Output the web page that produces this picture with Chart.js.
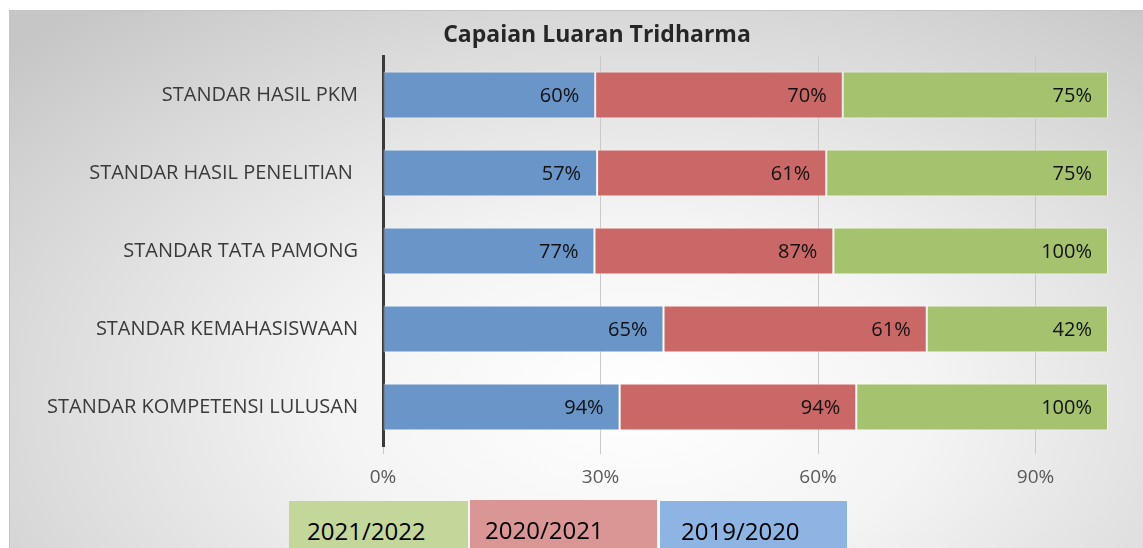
<!DOCTYPE html>
<html>
<head>
<meta charset="utf-8">
<script src="https://cdn.jsdelivr.net/npm/chart.js@4"></script>
<style>
  html, body { margin: 0; padding: 0; background: #fff; }
  body { width: 1143px; height: 548px; position: relative; overflow: hidden; font-family: "Open Sans", sans-serif; }
  #frame {
    position: absolute; left: 9px; top: 10px; width: 1134px; height: 538px;
    border-top: 1px solid #c4c4c4; border-left: 1px solid #c4c4c4;
    background: radial-gradient(ellipse 75% 95% at 55% 72%, #ffffff 0%, #f4f4f4 35%, #dcdcdc 70%, #c6c6c6 100%);
  }
  #wrap { position: absolute; left: 0; top: 0; width: 1134px; height: 538px; }
  #title { position: absolute; left: 0; width: 1194px; top: 17px; text-align: center; font-size: 23px; font-weight: bold; color: #262626; line-height: 32px; }
  .leg { position: absolute; height: 60px; font-size: 24px; color: #000; line-height: 60px; box-sizing: border-box; }
</style>
</head>
<body>
<div id="frame">
  <div id="wrap"><canvas id="tridharmaChart"></canvas></div>
</div>
<div id="title">Capaian Luaran Tridharma</div>
<div class="leg" style="left:289px; top:501px; width:179px; background:#c4d79b; padding-left:18px;">2021/2022</div>
<div class="leg" style="left:470px; top:500px; width:187px; background:#da9694; padding-left:15px;">2020/2021</div>
<div class="leg" style="left:660px; top:501px; width:187px; background:#8db4e2; padding-left:21px;">2019/2020</div>
<script>
const categories = ['STANDAR HASIL PKM', 'STANDAR HASIL PENELITIAN ', 'STANDAR TATA PAMONG', 'STANDAR KEMAHASISWAAN', 'STANDAR KOMPETENSI LULUSAN'];
const seriesNames = ['2019/2020', '2020/2021', '2021/2022'];
const values2019 = [60, 57, 77, 65, 94];
const values2020 = [70, 61, 87, 61, 94];
const values2021 = [75, 75, 100, 42, 100];
const tickValues = [0, 30, 60, 90];
const colors = ['#6a95c8', '#c96867', '#a5c26f'];

const raw = [values2019, values2020, values2021];
// 100% stacked: each bar is split by its share of the row total
const totals = categories.map((c, i) => raw.reduce((s, arr) => s + arr[i], 0));
const shares = raw.map(arr => arr.map((v, i) => v / totals[i] * 100));

const labelPlugin = {
  id: 'barLabels',
  afterDatasetsDraw(chart) {
    const ctx = chart.ctx;
    ctx.save();
    ctx.font = '20px "Open Sans"';
    ctx.fillStyle = '#111';
    ctx.textAlign = 'right';
    ctx.textBaseline = 'middle';
    chart.data.datasets.forEach((ds, d) => {
      chart.getDatasetMeta(d).data.forEach((el, i) => {
        ctx.fillText(raw[d][i] + '%', el.x - 16, el.y + 1);
      });
    });
    ctx.restore();
  }
};

const config = {
  type: 'bar',
  data: {
    labels: categories,
    datasets: seriesNames.map((name, d) => ({
      label: name,
      data: shares[d],
      backgroundColor: colors[d],
      borderColor: 'rgba(255,255,255,0.55)',
      borderWidth: 1,
      borderSkipped: false,
      categoryPercentage: 0.6,
      barPercentage: 1
    }))
  },
  options: {
    indexAxis: 'y',
    responsive: false,
    animation: false,
    layout: { padding: { right: 36, left: 0, top: 45, bottom: 0 } },
    plugins: {
      legend: { display: false },
      tooltip: { enabled: false },
      title: { display: false }
    },
    scales: {
      x: {
        stacked: true,
        min: 0,
        max: 100,
        afterBuildTicks(scale) { scale.ticks = tickValues.map(v => ({ value: v })); },
        afterFit(scale) { scale.height = 103; },
        ticks: { callback: v => v + '%', color: '#595959', padding: 12, font: { family: 'Open Sans', size: 19 } },
        grid: { color: '#c9c9c9', lineWidth: 1, tickLength: 8 },
        border: { display: false }
      },
      y: {
        stacked: true,
        afterFit(scale) { scale.width = 373; },
        ticks: { color: '#3a3a3a', padding: 17, font: { family: 'Open Sans', size: 20 } },
        grid: { display: false },
        border: { color: '#3a3a3a', width: 3 }
      }
    }
  },
  plugins: [labelPlugin]
};

window.onload = function() {
  const cv = document.getElementById('tridharmaChart');
  cv.width = 1134; cv.height = 538;
  new Chart(cv.getContext('2d'), config);
};
</script>
</body>
</html>
